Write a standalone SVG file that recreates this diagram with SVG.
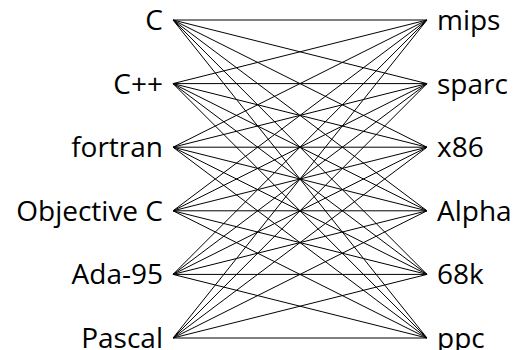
<svg xmlns="http://www.w3.org/2000/svg" width="520" height="350" viewBox="0 0 520 350">
<style>
text{font-family:"Open Sans","Noto Sans",sans-serif;font-size:28px;fill:#000}
.l{text-anchor:end}
.r{text-anchor:start}
#edges line{stroke:#000;stroke-width:1}
</style>
<rect width="520" height="350" fill="#fff"/>
<g id="edges">
<line x1="173" y1="20" x2="427" y2="20"/><line x1="173" y1="20" x2="427" y2="83.6"/><line x1="173" y1="20" x2="427" y2="147.2"/><line x1="173" y1="20" x2="427" y2="210.8"/><line x1="173" y1="20" x2="427" y2="274.4"/><line x1="173" y1="20" x2="427" y2="338"/>
<line x1="173" y1="83.6" x2="427" y2="20"/><line x1="173" y1="83.6" x2="427" y2="83.6"/><line x1="173" y1="83.6" x2="427" y2="147.2"/><line x1="173" y1="83.6" x2="427" y2="210.8"/><line x1="173" y1="83.6" x2="427" y2="274.4"/><line x1="173" y1="83.6" x2="427" y2="338"/>
<line x1="173" y1="147.2" x2="427" y2="20"/><line x1="173" y1="147.2" x2="427" y2="83.6"/><line x1="173" y1="147.2" x2="427" y2="147.2"/><line x1="173" y1="147.2" x2="427" y2="210.8"/><line x1="173" y1="147.2" x2="427" y2="274.4"/><line x1="173" y1="147.2" x2="427" y2="338"/>
<line x1="173" y1="210.8" x2="427" y2="20"/><line x1="173" y1="210.8" x2="427" y2="83.6"/><line x1="173" y1="210.8" x2="427" y2="147.2"/><line x1="173" y1="210.8" x2="427" y2="210.8"/><line x1="173" y1="210.8" x2="427" y2="274.4"/><line x1="173" y1="210.8" x2="427" y2="338"/>
<line x1="173" y1="274.4" x2="427" y2="20"/><line x1="173" y1="274.4" x2="427" y2="83.6"/><line x1="173" y1="274.4" x2="427" y2="147.2"/><line x1="173" y1="274.4" x2="427" y2="210.8"/><line x1="173" y1="274.4" x2="427" y2="274.4"/><line x1="173" y1="274.4" x2="427" y2="338"/>
<line x1="173" y1="338" x2="427" y2="20"/><line x1="173" y1="338" x2="427" y2="83.6"/><line x1="173" y1="338" x2="427" y2="147.2"/><line x1="173" y1="338" x2="427" y2="210.8"/><line x1="173" y1="338" x2="427" y2="274.4"/><line x1="173" y1="338" x2="427" y2="338"/>
</g>
<g id="n-C"><text class="l" x="163" y="30">C</text></g>
<g id="n-Cpp"><text class="l" x="163" y="93.6">C++</text></g>
<g id="n-fortran"><text class="l" x="163" y="157.2">fortran</text></g>
<g id="n-ObjectiveC"><text class="l" x="163" y="220.8">Objective C</text></g>
<g id="n-Ada95"><text class="l" x="163" y="284.4">Ada-95</text></g>
<g id="n-Pascal"><text class="l" x="163" y="348">Pascal</text></g>
<g id="n-mips"><text class="r" x="437" y="30">mips</text></g>
<g id="n-sparc"><text class="r" x="437" y="93.6">sparc</text></g>
<g id="n-x86"><text class="r" x="437" y="157.2">x86</text></g>
<g id="n-Alpha"><text class="r" x="437" y="220.8">Alpha</text></g>
<g id="n-68k"><text class="r" x="437" y="284.4">68k</text></g>
<g id="n-ppc"><text class="r" x="437" y="348">ppc</text></g>
</svg>
